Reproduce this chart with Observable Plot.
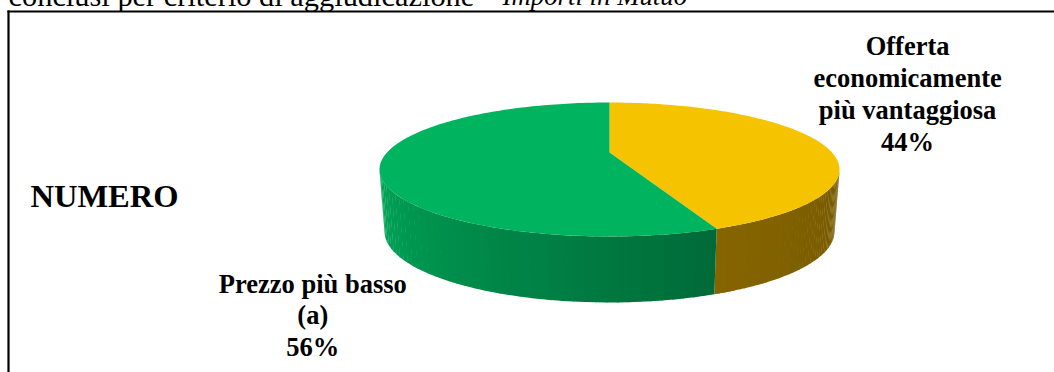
<!DOCTYPE html>
<html>
<head>
<meta charset="utf-8">
<style>html,body{margin:0;padding:0;background:#fff;overflow:hidden}svg{display:block}</style>
<script src="https://cdn.jsdelivr.net/npm/d3@7"></script>
<script src="https://cdn.jsdelivr.net/npm/@observablehq/plot@0.6"></script>
</head>
<body>
<script>
// Award criteria, share of the number of contracts (percent), clockwise from the top.
const categories = ["Offerta economicamente più vantaggiosa", "Prezzo più basso (a)"];
const shares = [44, 56];
const topColors = ["#f6c300", "#00b45f"];
const sideDark = ["#755800", "#006a38"];
const sideLight = ["#866500", "#00a85a"];
const labelLines = ["Offerta\neconomicamente\npiù vantaggiosa\n44%", "Prezzo più basso\n(a)\n56%"];
const labelX = [1.296, -1.29];
const labelY = [1.145, -2.16];
const heading = "conclusi per criterio di aggiudicazione -";
const headingItalic = "Importi in Mutuo";
const sideTitle = "NUMERO";

// Perspective view of the unit disc: the near edge is drawn larger than the far edge.
const tilt = 0.2537, spreadX = 0.9674;
const project = (u, v) => [spreadX * u / (1 + tilt * v), (v + tilt) / (1 + tilt * v)];
const rim = (a) => project(Math.sin(a), Math.cos(a));
// The lower rim of the wall sits a little narrower and lower than the top rim.
const lowerRim = ([x, y]) => [x * 0.978, y * 1.06 - 0.925];

// Turn the shares into angular spans.
let running = 0;
const spans = shares.map((s, i) => {
  const start = running / 100 * 2 * Math.PI;
  running += s;
  return {i, start, end: running / 100 * 2 * Math.PI};
});

// Top face polygons.
const topFace = spans.flatMap(({i, start, end}) => {
  const n = 160, pts = [];
  pts.push({slice: i, p: project(0, 0)});
  for (let k = 0; k <= n; k++) pts.push({slice: i, p: rim(start + (end - start) * k / n)});
  return pts;
});

// Front wall, built from narrow vertical strips that darken toward the slice boundary.
const edge = Math.acos(-tilt);
const strips = [];
spans.forEach(({i, start, end}) => {
  const from = Math.max(start, edge), to = Math.min(end, 2 * Math.PI - edge);
  const n = 44;
  const ramp = d3.interpolateRgb(sideDark[i], sideLight[i]);
  for (let k = 0; k < n; k++) {
    const a0 = from + (to - from) * k / n, a1 = from + (to - from) * (k + 1) / n + (k < n - 1 ? 0.004 : 0);
    const t0 = rim(a0), t1 = rim(a1);
    const color = ramp((k + 0.5) / n);
    const id = `${i}-${k}`;
    for (const [x, y] of [t0, t1, lowerRim(t1), lowerRim(t0)]) {
      strips.push({id, color, x, y});
    }
  }
});

const chart = Plot.plot({
  width: 1054,
  height: 372,
  marginTop: 11,
  marginLeft: 8,
  marginRight: 0,
  marginBottom: 0,
  x: {domain: [-1, 1], range: [379, 839], axis: null},
  y: {domain: [-1, 1], range: [236, 102], axis: null},
  style: {background: "#fff", fontFamily: "'Liberation Serif', serif"},
  marks: [
    Plot.line(strips, {x: "x", y: "y", z: "id", fill: "color", stroke: null}),
    Plot.line(topFace, {
      x: d => d.p[0],
      y: d => d.p[1],
      z: "slice",
      fill: d => topColors[d.slice],
      stroke: null
    }),
    Plot.frame({anchor: "top", stroke: "#000", strokeWidth: 2.2}),
    Plot.frame({anchor: "left", stroke: "#000", strokeWidth: 2.2}),
    Plot.text(labelLines, {
      x: (d, i) => labelX[i],
      y: (d, i) => labelY[i],
      text: d => d,
      fontWeight: "bold",
      fontSize: 26.5,
      lineHeight: 1.2,
      fill: "#000"
    }),
    Plot.text([sideTitle], {
      frameAnchor: "left",
      dx: 22,
      dy: 5,
      text: d => d,
      fontWeight: "bold",
      fontSize: 32.5,
      fill: "#000"
    }),
    Plot.text([heading], {
      frameAnchor: "top-left",
      dy: -27,
      text: d => d,
      fontSize: 30.4,
      fill: "#000"
    }),
    Plot.text([headingItalic], {
      frameAnchor: "top-left",
      dx: 494,
      dy: -26,
      text: d => d,
      fontSize: 26.8,
      fontStyle: "italic",
      fill: "#000"
    })
  ]
});
document.body.appendChild(chart);
</script>
</body>
</html>
